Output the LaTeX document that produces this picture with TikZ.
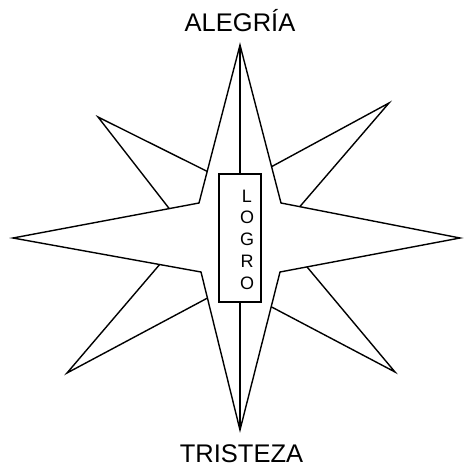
\documentclass[tikz,border=0pt]{standalone}
\usepackage{fontspec}
\setmainfont{Liberation Sans}
\usetikzlibrary{calc}

\begin{document}
\begin{tikzpicture}[x=1pt, y=-1pt,
    edge/.style={black, line width=1.4pt, line join=miter},
    title/.style={anchor=base, inner sep=0pt, font=\fontsize{25.5}{30}\selectfont},
    letters/.style={inner sep=0pt, align=center, font=\fontsize{18}{21.75}\selectfont}]

  \useasboundingbox (0, 0) rectangle (463, 468);

  % big star
  \coordinate (n) at (240, 45);
  \coordinate (s) at (240, 430);
  \coordinate (w) at (13, 238);
  \coordinate (e) at (460, 238);
  \coordinate (ul) at (199, 203);
  \coordinate (ur) at (281, 203);
  \coordinate (ll) at (201, 272);
  \coordinate (lr) at (280, 272);

  \draw[edge] (n) -- (ul) -- (w) -- (ll) -- (s) -- (lr) -- (e) -- (ur) -- cycle;

  % small points
  \coordinate (nw) at (98, 117);
  \coordinate (ne) at (389, 103);
  \coordinate (sw) at (67, 373);
  \coordinate (se) at (395, 372);

  \foreach \tip/\one/\ta/\two/\tb/\inner in {nw/n/0.80/w/0.84/ul, ne/n/0.77/e/0.895/ur,
      sw/w/0.78/s/0.835/ll, se/e/0.85/s/0.78/lr} {
    \coordinate (\tip a) at ($(\one)!\ta!(\inner)$);
    \coordinate (\tip b) at ($(\two)!\tb!(\inner)$);
    \draw[edge] (\tip a) -- (\tip) -- (\tip b);
  }

  % center
  \node[draw, edge, fill=white, minimum width=42pt, minimum height=128pt, inner sep=0pt]
    (logro) at (240, 238) {};
  \node[letters] (logrotext) at (247, 239.5) {L\\O\\G\\R\\O};

  \draw[edge] (n) -- (logro.north);
  \draw[edge] (logro.south) -- (s);

  \node[title] (alegria) at (240, 32) {ALEGRÍA};
  \node[title] (tristeza) at (241.5, 462.5) {TRISTEZA};

\end{tikzpicture}
\end{document}
